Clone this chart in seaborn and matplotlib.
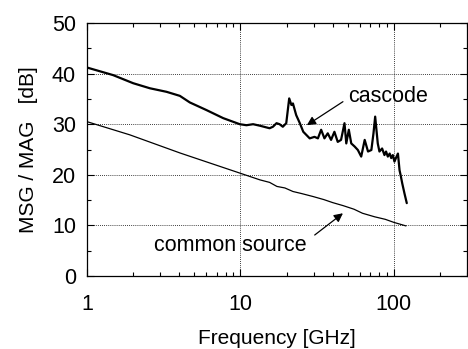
import numpy as np
import pandas as pd
import matplotlib
matplotlib.use("Agg")
import matplotlib.pyplot as plt
from matplotlib.ticker import LogLocator, FixedLocator, NullFormatter, MultipleLocator
import seaborn as sns

# Cascode MSG/MAG
cas_freq = [1.0, 1.48, 2.0, 2.57, 3.3, 4.03, 4.68, 6.0, 7.72, 9.9, 10.95, 12.1, 13.4,
            15.5, 16.3, 17.2, 18.0, 18.9, 19.9, 20.8, 21.5, 22.0, 23.1, 24.4, 25.7, 28.3,
            30.4, 32.0, 33.6, 35.3, 37.1, 39.0, 41.0, 43.1, 45.3, 47.7, 49.0, 50.9, 52.8,
            55.5, 58.3, 61.3, 64.6, 67.9, 71.4, 73.7, 75.6, 78.6, 80.6, 83.9, 86.9, 89.0,
            91.4, 94.0, 96.2, 98.5, 101.0, 103.5, 106.4, 109.0, 111.0, 113.5, 117.4, 121.5]
cas_db = [41.2, 39.7, 38.1, 37.1, 36.4, 35.6, 34.3, 32.8, 31.2, 30.0, 29.8, 30.0, 29.7,
          29.2, 29.5, 30.2, 30.0, 29.5, 30.2, 35.1, 33.8, 34.1, 31.8, 30.2, 28.5, 27.2,
          27.5, 27.2, 28.9, 27.2, 28.2, 26.9, 28.5, 26.5, 26.9, 30.2, 26.2, 28.9, 26.2,
          25.6, 24.9, 23.6, 26.9, 24.6, 24.9, 28.2, 31.5, 26.2, 24.6, 25.2, 23.9, 24.6,
          23.6, 24.2, 23.3, 23.9, 22.6, 23.4, 24.2, 20.9, 19.8, 18.3, 16.3, 14.4]

# Common source MSG/MAG
cs_freq = [1.0, 1.9, 4.05, 10.0, 13.4, 15.5, 17.3, 19.5, 22.0, 25.0, 29.8, 35.0, 40.0, 46.8, 55.0,
           62.5, 75.0, 88.0, 100.0, 120.0]
cs_db = [30.5, 27.9, 24.3, 20.3, 19.0, 18.5, 17.7, 17.4, 16.7, 16.3, 15.7, 15.1, 14.5, 13.9, 13.2,
         12.4, 11.7, 11.2, 10.6, 9.9]

x_ticks = [1, 10, 100]
x_ticklabels = ["1", "10", "100"]
y_ticks = [0, 10, 20, 30, 40, 50]

df_cas = pd.DataFrame({"f": cas_freq, "g": cas_db})
df_cs = pd.DataFrame({"f": cs_freq, "g": cs_db})

sns.set_style("ticks")
plt.rcParams["font.family"] = ["Liberation Sans", "DejaVu Sans"]
plt.rcParams["text.color"] = "black"
plt.rcParams["axes.labelcolor"] = "black"
plt.rcParams["xtick.color"] = "black"
plt.rcParams["ytick.color"] = "black"

fig = plt.figure(figsize=(4.68, 3.49), dpi=100)
ax = fig.add_axes([87 / 468, 1 - 276 / 349, (467 - 87) / 468, (276 - 23) / 349])

sns.lineplot(data=df_cas, x="f", y="g", ax=ax, color="black", linewidth=1.6, estimator=None, sort=False)
sns.lineplot(data=df_cs, x="f", y="g", ax=ax, color="black", linewidth=0.9, estimator=None, sort=False)

ax.set_xscale("log")
ax.set_xlim(1, 300)
ax.set_ylim(0, 50)
ax.xaxis.set_major_locator(FixedLocator(x_ticks))
ax.set_xticklabels(x_ticklabels)
ax.xaxis.set_minor_locator(LogLocator(base=10, subs=np.arange(2, 10)))
ax.xaxis.set_minor_formatter(NullFormatter())
ax.yaxis.set_major_locator(FixedLocator(y_ticks))
ax.yaxis.set_minor_locator(MultipleLocator(5))

ax.tick_params(which="both", direction="in", top=True, right=True, colors="black",
               labelcolor="black", labelsize=15.5, width=0.8)
ax.tick_params(which="major", length=5)
ax.tick_params(which="minor", length=3)
ax.tick_params(axis="x", which="major", pad=13)
ax.tick_params(axis="y", which="major", pad=8)

ax.grid(True, which="major", linestyle=(0, (1, 1.5)), color="black", linewidth=0.6)
for s in ax.spines.values():
    s.set_color("black")
    s.set_linewidth(0.9)

ax.set_xlabel("Frequency [GHz]", fontsize=15, labelpad=10, color="black")
ax.set_ylabel("MSG / MAG   [dB]", fontsize=15, labelpad=10, color="black")

ax.text(50.0, 34.3, "cascode", fontsize=15.5, ha="left", va="baseline", color="black")
ax.text(2.73, 5.0, "common source", fontsize=15.5, ha="left", va="baseline", color="black")

arrow = dict(arrowstyle="-|>", color="black", lw=0.9, mutation_scale=13, shrinkA=0, shrinkB=0)
ax.annotate("", xy=(27.1, 29.8), xytext=(46.6, 34.45), arrowprops=arrow)
ax.annotate("", xy=(46.6, 12.4), xytext=(30.5, 8.1), arrowprops=arrow)

fig.savefig("out.png", dpi=100)
